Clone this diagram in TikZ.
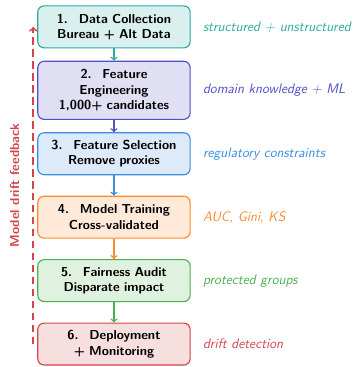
\documentclass[tikz,border=0pt]{standalone}
\usepackage{tikz}
\usetikzlibrary{positioning}
\definecolor{stteal}{HTML}{2AABA3}
\definecolor{stpurple}{HTML}{5150C4}
\definecolor{stblue}{HTML}{3A8DDE}
\definecolor{storange}{HTML}{FF8A2E}
\definecolor{stgreen}{HTML}{4CAF50}
\definecolor{stred}{HTML}{D2464B}

\tikzset{
  stage/.style={draw=#1, fill=#1!18, line width=0.9pt, rounded corners=5pt,
    minimum width=4.25cm, minimum height=1.17cm, text width=4cm, align=center,
    font=\fontsize{10.3}{12.3}\selectfont\sffamily\bfseries, inner sep=2pt},
  note/.style={font=\fontsize{11}{13}\selectfont\sffamily\itshape, text=#1, anchor=west},
  flow/.style={->, line width=1.1pt, draw=#1}
}

\begin{document}
\begin{tikzpicture}
  \useasboundingbox (-3.18,0.75) rectangle (6.81,-9.49);
  % pipeline stages, centres on a fixed pitch
  \node[stage=stteal]   (collect) at (0,0)      {1.~ Data Collection\\Bureau + Alt Data};
  \node[stage=stpurple, minimum height=1.62cm] (engineer) at (0,-1.77) {2.~ Feature\\Engineering\\1,000+ candidates};
  \node[stage=stblue]   (select)  at (0,-3.54)  {3.~ Feature Selection\\Remove proxies};
  \node[stage=storange] (train)   at (0,-5.31)  {4.~ Model Training\\Cross-validated};
  \node[stage=stgreen]  (audit)   at (0,-7.08)  {5.~ Fairness Audit\\Disparate impact};
  \node[stage=stred]    (deploy)  at (0,-8.85)  {6.~ Deployment\\+ Monitoring};
  % forward arrows (colour of the upper stage)
  \draw[flow=stteal]   (collect) -- (engineer);
  \draw[flow=stpurple] (engineer) -- (select);
  \draw[flow=stblue]   (select) -- (train);
  \draw[flow=storange] (train) -- (audit);
  \draw[flow=stgreen]  (audit) -- (deploy);
  % side notes
  \node[note=stteal,   right=0.22cm of collect]  (n1) {structured + unstructured};
  \node[note=stpurple, right=0.22cm of engineer] (n2) {domain knowledge + ML};
  \node[note=stblue,   right=0.22cm of select]   (n3) {regulatory constraints};
  \node[note=storange, right=0.22cm of train]    (n4) {AUC, Gini, KS};
  \node[note=stgreen,  right=0.22cm of audit]    (n5) {protected groups};
  \node[note=stred,    right=0.22cm of deploy]   (n6) {drift detection};
  % feedback loop
  \coordinate (fbstart) at ([xshift=-0.11cm]deploy.west);
  \coordinate (fbend) at ([xshift=-0.11cm]collect.west);
  \draw[->, draw=stred, line width=1.4pt, dash pattern=on 6pt off 3.5pt] (fbstart) -- (fbend);
  \node[font=\fontsize{10.3}{12}\selectfont\sffamily\bfseries, text=stred, rotate=90] (fblabel) at (-2.77,-4.42) {Model drift feedback};
\end{tikzpicture}
\end{document}
